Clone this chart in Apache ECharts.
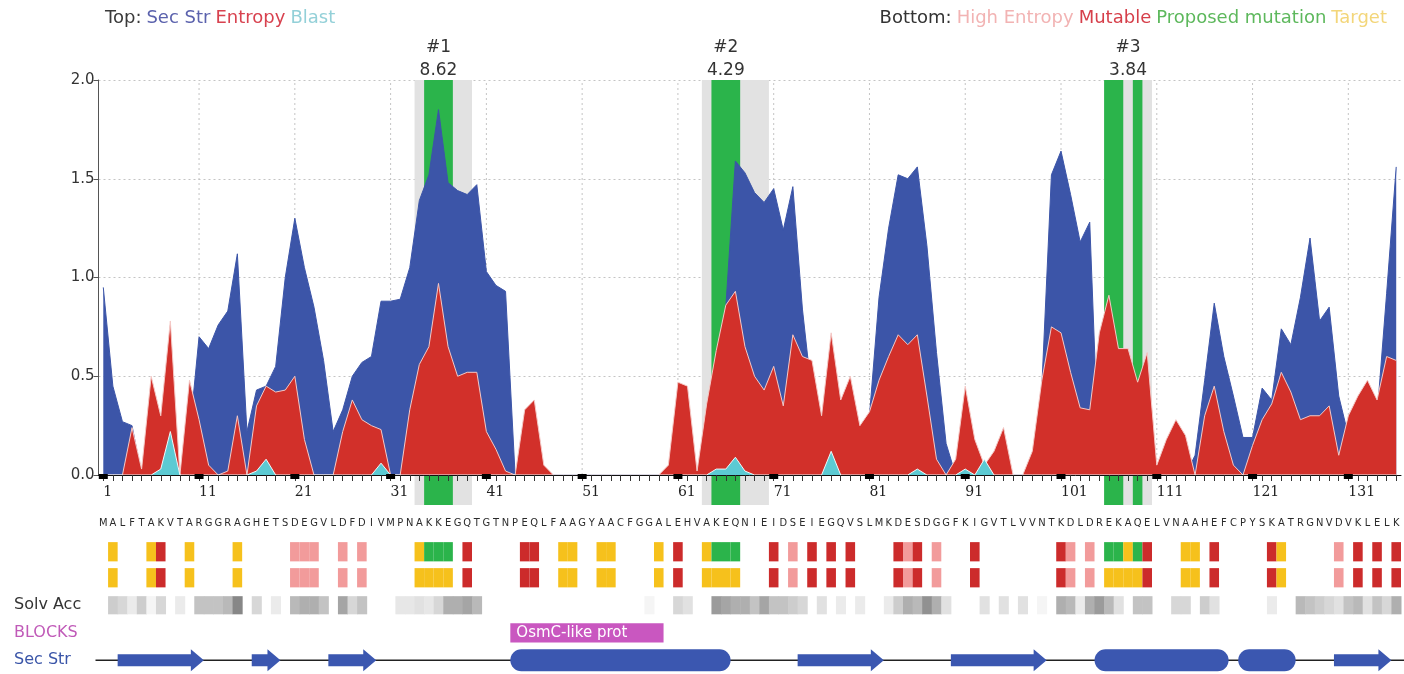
<!DOCTYPE html>
<html><head><meta charset="utf-8">
<script src="https://cdn.jsdelivr.net/npm/echarts@6/dist/echarts.min.js"></script>
<style>html,body{margin:0;padding:0;background:#fff}#c{width:1404px;height:674px}</style>
</head><body><div id="c"></div>
<script>
// ---------- DATA ----------
const seqChunks = ['MALFTAKVTA','RGGRAGHETS','DEGVLDFDIV','MPNAKKEGQT','GTNPEQLFAA','GYAACFGGAL','EHVAKEQNIE','IDSEIEGQVS','LMKDESDGGF','KIGVTLVVNT','KDLDREKAQE','LVNAAHEFCP','YSKATRGNVD','VKLELK'];
const residues = seqChunks.join('').split('');
const tickLabels = [1,11,21,31,41,51,61,71,81,91,101,111,121,131];

const secStr = [
0.95,0.45,0.27,0.25,0,0,0,0,0,0.2,
0.70,0.64,0.76,0.83,1.12,0.22,0.43,0.45,0.55,1.00,
1.30,1.05,0.85,0.58,0.22,0.33,0.50,0.57,0.60,0.88,
0.88,0.89,1.05,1.39,1.52,1.85,1.48,1.44,1.42,1.47,
1.03,0.96,0.93,0,0,0,0,0,0,0,
0,0,0,0,0,0,0,0,0,0,
0,0,0,0.3,0.5,0.85,1.59,1.53,1.43,1.38,
1.45,1.24,1.46,0.84,0.4,0.2,0,0,0,0.2,
0.3,0.9,1.25,1.52,1.50,1.56,1.16,0.62,0.16,0,
0,0,0,0,0,0,0,0,0.45,1.52,
1.64,1.42,1.18,1.28,0,0,0,0,0,0,
0,0,0,0,0.1,0.48,0.87,0.6,0.40,0.19,
0.19,0.44,0.38,0.74,0.66,0.90,1.20,0.78,0.85,0.40,
0.2,0.3,0.3,0.3,0.92,1.56];

const entropy = [
0,0,0,0.24,0.03,0.50,0.30,0.78,0,0.48,
0.28,0.05,0,0.02,0.30,0,0.35,0.45,0.42,0.43,
0.50,0.18,0,0,0,0.22,0.38,0.28,0.25,0.23,
0,0,0.33,0.56,0.65,0.97,0.65,0.50,0.52,0.52,
0.22,0.13,0.02,0,0.33,0.38,0.05,0,0,0,
0,0,0,0,0,0,0,0,0,0.05,
0.47,0.45,0.02,0.36,0.63,0.86,0.93,0.65,0.50,0.43,
0.55,0.35,0.71,0.60,0.58,0.30,0.72,0.38,0.50,0.25,
0.32,0.48,0.60,0.71,0.66,0.71,0.40,0.08,0,0.08,
0.45,0.18,0.05,0.12,0.24,0,0,0.12,0.48,0.75,
0.72,0.52,0.34,0.33,0.72,0.91,0.64,0.64,0.47,0.62,
0.05,0.18,0.28,0.20,0,0.30,0.45,0.22,0.05,0,
0.15,0.28,0.36,0.52,0.42,0.28,0.30,0.30,0.35,0.10,
0.30,0.40,0.48,0.38,0.60,0.58];

const blast = [
0,0,0,0,0,0,0.03,0.22,0,0,
0,0,0,0,0,0,0.02,0.08,0,0,
0,0,0,0,0,0,0,0,0,0.06,
0,0,0,0,0,0,0,0,0,0,
0,0,0,0,0,0,0,0,0,0,
0,0,0,0,0,0,0,0,0,0,
0,0,0,0,0.03,0.03,0.09,0.02,0,0,
0,0,0,0,0,0,0.12,0,0,0,
0,0,0,0,0,0.03,0,0,0,0,
0.03,0,0.08,0,0,0,0,0,0,0,
0,0,0,0,0,0,0,0,0,0,
0,0,0,0,0,0,0,0,0,0,
0,0,0,0,0,0,0,0,0,0,
0,0,0,0,0,0];

const solvAcc = [
0,0.25,0.2,0.1,0.25,0.05,0.2,0,0.1,0,
0.3,0.3,0.3,0.35,0.6,0,0.2,0,0.1,0,
0.35,0.4,0.4,0.3,0,0.45,0.2,0.3,0,0,
0,0.12,0.12,0.15,0.12,0.2,0.4,0.4,0.45,0.35,
0,0,0,0,0,0,0,0,0,0,
0,0,0,0,0,0,0,0.05,0,0,
0.2,0.15,0,0,0.5,0.45,0.4,0.4,0.3,0.45,
0.3,0.3,0.25,0.2,0,0.15,0,0.1,0,0.1,
0,0,0.1,0.25,0.4,0.35,0.55,0.4,0.15,0,
0,0,0.15,0,0.15,0,0.15,0,0.05,0,
0.4,0.35,0.1,0.4,0.5,0.35,0.15,0,0.3,0.3,
0,0,0.2,0.2,0,0.25,0.15,0,0,0,
0,0,0.1,0,0,0.35,0.3,0.25,0.2,0.15,
0.3,0.35,0.15,0.3,0.2,0.4];

// T = target, M = mutable, H = high entropy, P = proposed mutation
const row1Marks = [[2,'T'],[6,'T'],[7,'M'],[10,'T'],[15,'T'],[21,'H'],[22,'H'],[23,'H'],[26,'H'],[28,'H'],[34,'T'],[35,'P'],[36,'P'],[37,'P'],[39,'M'],[45,'M'],[46,'M'],[49,'T'],[50,'T'],[53,'T'],[54,'T'],[59,'T'],[61,'M'],[64,'T'],[65,'P'],[66,'P'],[67,'P'],[71,'M'],[73,'H'],[75,'M'],[77,'M'],[79,'M'],[84,'M'],[85,'H'],[86,'M'],[88,'H'],[92,'M'],[101,'M'],[102,'H'],[104,'H'],[106,'P'],[107,'P'],[108,'T'],[109,'P'],[110,'M'],[114,'T'],[115,'T'],[117,'M'],[123,'M'],[124,'T'],[130,'H'],[132,'M'],[134,'M'],[136,'M']];
const row2Marks = [[2,'T'],[6,'T'],[7,'M'],[10,'T'],[15,'T'],[21,'H'],[22,'H'],[23,'H'],[26,'H'],[28,'H'],[34,'T'],[35,'T'],[36,'T'],[37,'T'],[39,'M'],[45,'M'],[46,'M'],[49,'T'],[50,'T'],[53,'T'],[54,'T'],[59,'T'],[61,'M'],[64,'T'],[65,'T'],[66,'T'],[67,'T'],[71,'M'],[73,'H'],[75,'M'],[77,'M'],[79,'M'],[84,'M'],[85,'H'],[86,'M'],[88,'H'],[92,'M'],[101,'M'],[102,'H'],[104,'H'],[106,'T'],[107,'T'],[108,'T'],[109,'T'],[110,'M'],[114,'T'],[115,'T'],[117,'M'],[123,'M'],[124,'T'],[130,'H'],[132,'M'],[134,'M'],[136,'M']];

const greyBands = [[34,39],[64,70],[106,110]];
const greenBands = [[35,37],[65,67],[106,107],[109,109]];
const hits = [{at:36, rank:'#1', score:'8.62'}, {at:66, rank:'#2', score:'4.29'}, {at:108, rank:'#3', score:'3.84'}];

const strands = [[3,11],[17,19],[25,29],[74,82],[90,99],[130,135]];
const helices = [[44,66],[105,118],[120,125]];
const blocks = [{from:44, to:59, name:'OsmC-like prot'}];
const trackNames = ['Seq','Row1','Row2','Solv Acc','BLOCKS','Sec Str'];

// ---------- STYLE ----------
const FONT = "'DejaVu Sans', Verdana, sans-serif";
const X_MIN = 0.5, X_MAX = 136.5;
const kindColor = {T:'#f6c11c', M:'#cc2b2b', H:'#f29b9b', P:'#2bb44b'};
const C_BLUE = '#3c55a8', C_RED = '#d2302a', C_CYAN = '#5ccad3', SS_BLUE = '#3b57b0';
const pts = arr => arr.map((v,i)=>[i+1, v]);
const positions = residues.map((r,i)=>i+1);

const chart = echarts.init(document.getElementById('c'));

const bandSeries = (list, color, z) => ({
  type:'custom', xAxisIndex:0, yAxisIndex:0, z:z, silent:true,
  data: list.map(b=>[b[0], b[1]]),
  renderItem:(p, api)=>{
    const a = api.coord([api.value(0)-0.5, 2]);
    const b = api.coord([api.value(1)+0.5, 0]);
    return {type:'rect', shape:{x:a[0], y:a[1], width:b[0]-a[0], height:b[1]-a[1]+30}, style:{fill:color}};
  }
});

const markSeries = (list, row) => ({
  type:'custom', xAxisIndex:1, yAxisIndex:1, silent:true, z:3,
  data: list.map(m=>[m[0], row]),
  renderItem:(p, api)=>{
    const k = list[p.dataIndex][1];
    const c = api.coord([api.value(0), row]);
    const s = api.size([1, 1]);
    const h = s[1]*0.7;
    return {type:'rect', shape:{x:c[0]-s[0]/2, y:c[1]-h/2 + (row===1?1.5:0), width:s[0], height:h}, style:{fill:kindColor[k]}};
  }
});

const rl = {fontFamily:FONT, fontSize:16, fontWeight:'normal'};
const tl = {fontFamily:FONT, fontSize:18, fontWeight:'normal'};
const option = {
  animation:false,
  backgroundColor:'#fff',
  title:[{
    left:100, top:4,
    text:'{k|Top:} {s|Sec Str} {e|Entropy} {b|Blast}',
    textStyle:{fontWeight:'normal', rich:{
      k:Object.assign({color:'#3a3a3a'}, tl), s:Object.assign({color:'#5b62ad'}, tl),
      e:Object.assign({color:'#d8424f'}, tl), b:Object.assign({color:'#93d0d8'}, tl)}}
  },{
    right:12, top:4,
    text:'{k|Bottom:} {h|High Entropy} {m|Mutable} {p|Proposed mutation} {t|Target}',
    textStyle:{fontWeight:'normal', rich:{
      k:Object.assign({color:'#333'}, tl), h:Object.assign({color:'#f2b3b3'}, tl),
      m:Object.assign({color:'#d63f4a'}, tl), p:Object.assign({color:'#5db85c'}, tl),
      t:Object.assign({color:'#f3d67a'}, tl)}}
  }],
  grid:[
    {left:98.5, right:3, top:80, bottom:199},
    {left:98.5, right:3, top:509, height:165}
  ],
  xAxis:[
    {type:'value', gridIndex:0, min:X_MIN, max:X_MAX, z:20,
     axisLine:{lineStyle:{color:'#111', width:1}},
     axisTick:{customValues:positions, length:6, lineStyle:{color:'#333'}},
     axisLabel:{customValues:tickLabels, align:'left', margin:10, fontFamily:"'DejaVu Serif', serif", fontSize:14, color:'#222'},
     splitLine:{show:false}},
    {type:'value', gridIndex:1, min:X_MIN, max:X_MAX, show:false}
  ],
  yAxis:[
    {type:'value', gridIndex:0, min:0, max:2, interval:0.5,
     axisLine:{show:true, lineStyle:{color:'#555'}},
     axisTick:{show:true, length:5, lineStyle:{color:'#555'}},
     axisLabel:{formatter:v=>v.toFixed(1), fontFamily:FONT, fontSize:15, color:'#333', margin:4},
     splitLine:{show:true, lineStyle:{type:[2,3], color:'#c4c4c4'}}},
    {type:'category', gridIndex:1, inverse:true, data:trackNames,
     axisLine:{show:false}, axisTick:{show:false}, splitLine:{show:false},
     axisLabel:{margin:84.5, align:'left',
       formatter:(v)=> v==='Solv Acc' ? '{s|Solv Acc}' : v==='BLOCKS' ? '{b|BLOCKS}' : v==='Sec Str' ? '{t|Sec Str}' : '',
       rich:{s:Object.assign({color:'#333'}, rl), b:Object.assign({color:'#c05ab8'}, rl), t:Object.assign({color:'#3a55a8'}, rl)}}}
  ],
  series:[
    // vertical dotted grid
    {type:'custom', xAxisIndex:0, yAxisIndex:0, z:1, silent:true,
     data: tickLabels.filter(v=>v>1).map(v=>[v, 0]),
     renderItem:(p, api)=>{
       const a = api.coord([api.value(0), 0]), b = api.coord([api.value(0), 2]);
       return {type:'line', shape:{x1:a[0], y1:a[1], x2:b[0], y2:b[1]}, style:{stroke:'#c4c4c4', lineWidth:1, lineDash:[2,3]}};
     }},
    bandSeries(greyBands, '#e2e2e2', 1),
    bandSeries(greenBands, '#2bb44b', 1.5),
    {type:'line', name:'Sec Str', xAxisIndex:0, yAxisIndex:0, z:2, data:pts(secStr), showSymbol:false, symbol:'none',
     lineStyle:{color:C_BLUE, width:1}, areaStyle:{color:C_BLUE, opacity:1}},
    {type:'line', name:'Entropy', xAxisIndex:0, yAxisIndex:0, z:3, data:pts(entropy), showSymbol:false, symbol:'none',
     lineStyle:{color:'#f4c9c6', width:1}, areaStyle:{color:C_RED, opacity:1}},
    {type:'line', name:'Blast', xAxisIndex:0, yAxisIndex:0, z:4, data:pts(blast), showSymbol:false, symbol:'none',
     lineStyle:{color:'#eef9fa', width:1}, areaStyle:{color:C_CYAN, opacity:1}},
    // major tick blocks
    {type:'custom', xAxisIndex:0, yAxisIndex:0, z:25, silent:true,
     data: tickLabels.map(v=>[v, 0]),
     renderItem:(p, api)=>{
       const c = api.coord([api.value(0), 0]);
       return {type:'rect', shape:{x:c[0]-4.5, y:c[1]-1, width:9, height:5}, style:{fill:'#000'}};
     }},
    // hit labels
    {type:'custom', xAxisIndex:0, yAxisIndex:0, z:5, silent:true,
     data: hits.map(h=>[h.at, 2]),
     renderItem:(p, api)=>{
       const h = hits[p.dataIndex];
       const c = api.coord([api.value(0), 2]);
       return {type:'text', x:c[0], y:c[1]+2, style:{text:h.rank+'\n'+h.score, align:'center', verticalAlign:'bottom',
         fill:'#333', fontFamily:FONT, fontSize:17, lineHeight:23}};
     }},
    // sequence letters
    {type:'custom', xAxisIndex:1, yAxisIndex:1, silent:true,
     data: residues.map((r,i)=>[i+1, 0]),
     renderItem:(p, api)=>{
       const c = api.coord([api.value(0), 0]);
       return {type:'text', x:c[0], y:c[1], style:{text:residues[p.dataIndex], align:'center', verticalAlign:'middle',
         fill:'#2a2a2a', fontFamily:"'DejaVu Sans Condensed', 'Liberation Sans Narrow', 'DejaVu Sans', sans-serif", fontSize:11}};
     }},
    markSeries(row1Marks, 1),
    markSeries(row2Marks, 2),
    // solvent accessibility
    {type:'custom', xAxisIndex:1, yAxisIndex:1, silent:true,
     data: solvAcc.map((v,i)=>[i+1, 3, v]),
     renderItem:(p, api)=>{
       const v = api.value(2);
       if (!v) return null;
       const c = api.coord([api.value(0), 3]);
       const s = api.size([1, 1]);
       const h = s[1]*0.66;
       const g = Math.round(255 - v*200);
       return {type:'rect', shape:{x:c[0]-s[0]/2, y:c[1]-h/2, width:s[0]+0.5, height:h}, style:{fill:'rgb('+g+','+g+','+g+')'}};
     }},
    // blocks
    {type:'custom', xAxisIndex:1, yAxisIndex:1, silent:true,
     data: blocks.map(b=>[b.from, 4, b.to]),
     renderItem:(p, api)=>{
       const b = blocks[p.dataIndex];
       const a = api.coord([b.from-0.5, 4]), e = api.coord([b.to+0.5, 4]);
       const s = api.size([1, 1]);
       const h = s[1]*0.7;
       return {type:'group', children:[
         {type:'rect', shape:{x:a[0], y:a[1]-h/2, width:e[0]-a[0], height:h}, style:{fill:'#c957c0'}},
         {type:'text', x:a[0]+6, y:a[1], style:{text:b.name, align:'left', verticalAlign:'middle', fill:'#fff', fontFamily:FONT, fontSize:15}}
       ]};
     }},
    // sec str baseline
    {type:'custom', xAxisIndex:1, yAxisIndex:1, silent:true, z:2,
     data:[[X_MIN, 5]],
     renderItem:(p, api)=>{
       const a = api.coord([X_MIN, 5]), b = api.coord([X_MAX, 5]);
       return {type:'line', shape:{x1:a[0]-3, y1:a[1], x2:b[0]+3, y2:b[1]}, style:{stroke:'#222', lineWidth:1.5}};
     }},
    // strands
    {type:'custom', xAxisIndex:1, yAxisIndex:1, silent:true, z:3,
     data: strands.map(s=>[s[0], 5, s[1]]),
     renderItem:(p, api)=>{
       const a = api.coord([api.value(0)-0.5, 5]), b = api.coord([api.value(2)+0.5, 5]);
       const y = a[1], head = 13, bh = 6, hh = 11;
       return {type:'polygon', shape:{points:[[a[0],y-bh],[b[0]-head,y-bh],[b[0]-head,y-hh],[b[0],y],[b[0]-head,y+hh],[b[0]-head,y+bh],[a[0],y+bh]]},
         style:{fill:SS_BLUE}};
     }},
    // helices
    {type:'custom', xAxisIndex:1, yAxisIndex:1, silent:true, z:3,
     data: helices.map(s=>[s[0], 5, s[1]]),
     renderItem:(p, api)=>{
       const a = api.coord([api.value(0)-0.5, 5]), b = api.coord([api.value(2)+0.5, 5]);
       return {type:'rect', shape:{x:a[0], y:a[1]-11, width:b[0]-a[0], height:22, r:11}, style:{fill:SS_BLUE}};
     }}
  ]
};
chart.setOption(option);
</script>
</body></html>
